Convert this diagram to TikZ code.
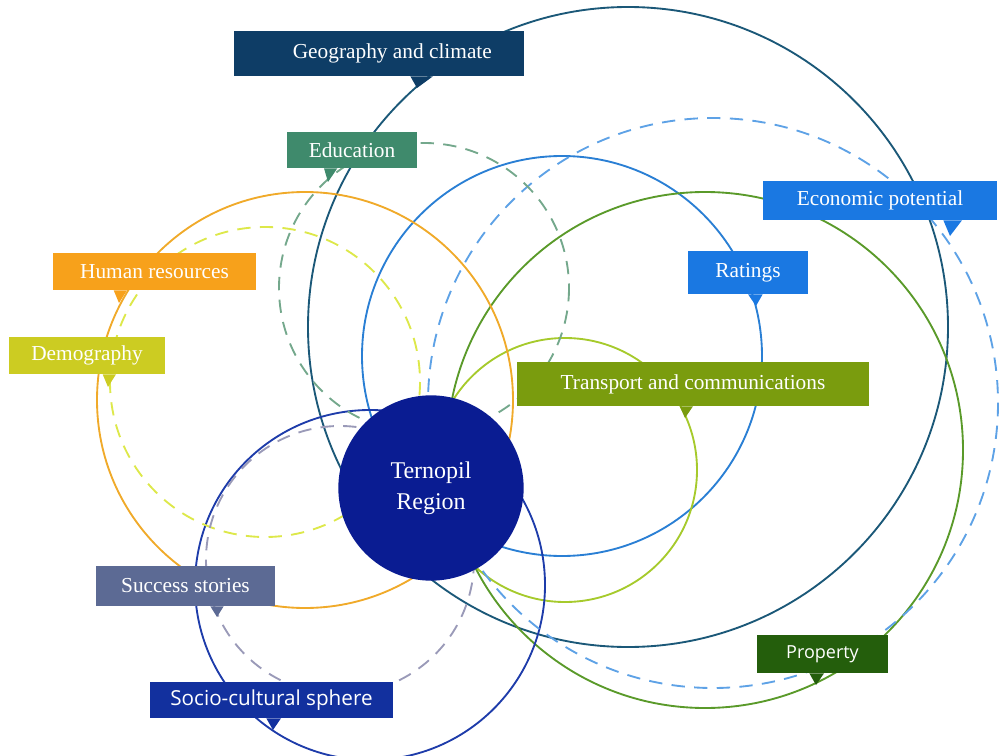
\documentclass[tikz,border=0pt]{standalone}
\usepackage{fontspec}
\setmainfont{Liberation Serif}
\newfontfamily\boxsans{Open Sans}

\definecolor{ternopil}{HTML}{0A1C92}
\definecolor{geobox}{HTML}{0E3D66}
\definecolor{geoline}{HTML}{1B5878}
\definecolor{edubox}{HTML}{3F8A6C}
\definecolor{eduline}{HTML}{74A88C}
\definecolor{humanbox}{HTML}{F7A11B}
\definecolor{humanline}{HTML}{F0AA2A}
\definecolor{demobox}{HTML}{CCCC22}
\definecolor{demoline}{HTML}{DDE84A}
\definecolor{econbox}{HTML}{1A78E2}
\definecolor{econline}{HTML}{5EA2E6}
\definecolor{ratebox}{HTML}{1A78E2}
\definecolor{rateline}{HTML}{2A7FD4}
\definecolor{transbox}{HTML}{7A9C0E}
\definecolor{transline}{HTML}{A6CA2C}
\definecolor{propbox}{HTML}{245E0C}
\definecolor{propline}{HTML}{5A9A2A}
\definecolor{successbox}{HTML}{5C6A94}
\definecolor{successline}{HTML}{9A9AB8}
\definecolor{sociobox}{HTML}{12309E}
\definecolor{socioline}{HTML}{1E3CAA}

\begin{document}
\begin{tikzpicture}[x=0.75pt,y=-0.75pt]
        \useasboundingbox (0,0) rectangle (1003,756);

        \begin{scope}[line width=1.4pt]
          \coordinate (geo)     at (628,327);
          \coordinate (econ)    at (713,403);
          \coordinate (rate)    at (562,356);
          \coordinate (prop)    at (705,450);
          \coordinate (trans)   at (565,470);
          \coordinate (human)   at (305,400);
          \coordinate (demo)    at (265,382);
          \coordinate (edu)     at (424,288);
          \coordinate (socio)   at (370,585);
          \coordinate (success) at (340,560);

          \draw[geoline]   (geo)   circle[radius=320];
          \draw[rateline]  (rate)  circle[radius=200];
          \draw[propline]  (prop)  circle[radius=258];
          \draw[transline] (trans) circle[radius=132];
          \draw[humanline] (human) circle[radius=208];
          \draw[socioline] (socio) circle[radius=175];

          \begin{scope}[dash pattern=on 10pt off 7pt]
            \draw[econline]    (econ)    circle[radius=285];
            \draw[demoline]    (demo)    circle[radius=155];
            \draw[eduline]     (edu)     circle[radius=145];
            \draw[successline] (success) circle[radius=134];
          \end{scope}
        \end{scope}

        \node[circle,fill=ternopil,text=white,minimum size=139pt,align=center,
              font=\fontsize{18}{23}\selectfont] (ternopil) at (431,488) {Ternopil\\Region};

        \begin{scope}[every node/.style={text=white,inner sep=0pt,font=\fontsize{16}{18}\selectfont}]
          \node[fill=geobox,minimum width=217.5pt,minimum height=33.75pt]      (geography)  at (379,53.5)  {\hspace{20pt}Geography and climate};
          \node[fill=edubox,minimum width=97.5pt,minimum height=27pt]          (education)  at (352,150)   {Education};
          \node[fill=humanbox,minimum width=152.25pt,minimum height=27.75pt]   (resources)  at (154.5,271.5) {Human resources};
          \node[fill=demobox,minimum width=117pt,minimum height=27.75pt]       (demography) at (87,355.5)  {Demography};
          \node[fill=econbox,minimum width=175.5pt,minimum height=29.25pt]     (economic)   at (880,200.5) {Economic potential};
          \node[fill=ratebox,minimum width=90pt,minimum height=32.25pt]        (ratings)    at (748,272.5) {Ratings};
          \node[fill=transbox,minimum width=264pt,minimum height=33pt]         (transport)  at (693,384)   {Transport and communications};
          \node[fill=successbox,minimum width=134.25pt,minimum height=30pt]    (stories)    at (185.5,586) {Success stories};
          \node[fill=sociobox,minimum width=182.25pt,minimum height=27pt,
                font=\boxsans\fontsize{15.5}{18}\selectfont]                   (sphere)     at (271.5,700) {Socio-cultural sphere};
          \node[fill=propbox,minimum width=98.25pt,minimum height=28.5pt,
                font=\boxsans\fontsize{13.5}{16}\selectfont]                   (property)   at (822.5,654) {Property};
        \end{scope}

        % pointers
        \coordinate (geotip)   at (417,88);
        \coordinate (edutip)   at (328,182);
        \coordinate (humantip) at (119,303);
        \coordinate (demotip)  at (108,387);
        \coordinate (econtip)  at (950,236);
        \coordinate (ratetip)  at (756,306);
        \coordinate (transtip) at (685,418);
        \coordinate (storytip) at (217,617);
        \coordinate (sociotip) at (273,730);
        \coordinate (proptip)  at (816,685);

        \fill[geobox]     (geotip)   -- ([xshift=-5pt]geotip |- geography.south)   -- ([xshift=12pt]geotip |- geography.south)  -- cycle;
        \fill[edubox]     (edutip)   -- ([xshift=-3pt]edutip |- education.south)   -- ([xshift=7pt]edutip |- education.south)   -- cycle;
        \fill[humanbox]   (humantip) -- ([xshift=-4pt]humantip |- resources.south) -- ([xshift=6pt]humantip |- resources.south) -- cycle;
        \fill[demobox]    (demotip)  -- ([xshift=-4pt]demotip |- demography.south) -- ([xshift=6pt]demotip |- demography.south) -- cycle;
        \fill[econbox]    (econtip)  -- ([xshift=-5pt]econtip |- economic.south)   -- ([xshift=9pt]econtip |- economic.south)   -- cycle;
        \fill[ratebox]    (ratetip)  -- ([xshift=-6pt]ratetip |- ratings.south)    -- ([xshift=5pt]ratetip |- ratings.south)    -- cycle;
        \fill[transbox]   (transtip) -- ([xshift=-4pt]transtip |- transport.south) -- ([xshift=6pt]transtip |- transport.south) -- cycle;
        \fill[successbox] (storytip) -- ([xshift=-5pt]storytip |- stories.south)   -- ([xshift=5pt]storytip |- stories.south)   -- cycle;
        \fill[sociobox]   (sociotip) -- ([xshift=-5pt]sociotip |- sphere.south)    -- ([xshift=6pt]sociotip |- sphere.south)    -- cycle;
        \fill[propbox]    (proptip)  -- ([xshift=-5pt]proptip |- property.south)   -- ([xshift=6pt]proptip |- property.south)   -- cycle;

      \end{tikzpicture}
\end{document}
